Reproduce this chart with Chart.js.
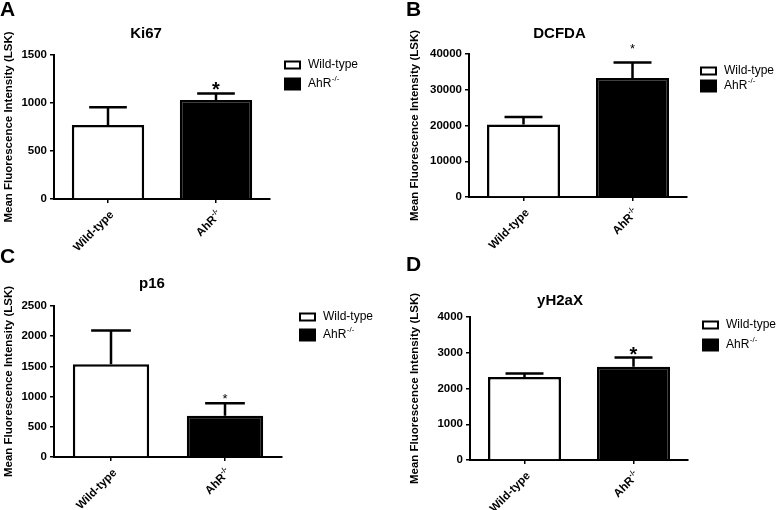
<!DOCTYPE html>
<html>
<head>
<meta charset="utf-8">
<title>LSK fluorescence panels</title>
<script src="https://cdn.jsdelivr.net/npm/chart.js@4.4.1/dist/chart.umd.min.js"></script>
<style>
    html, body { margin: 0; padding: 0; background: #fff; }
    #wrap { position: relative; width: 777px; height: 510px; overflow: hidden; }
    #wrap canvas { position: absolute; left: 0; top: 0; }
</style>
</head>
<body>
<div id="wrap">
    <canvas id="chartA" width="777" height="510"></canvas>
    <canvas id="chartB" width="777" height="510"></canvas>
    <canvas id="chartC" width="777" height="510"></canvas>
    <canvas id="chartD" width="777" height="510"></canvas>
</div>
<script>
// Data
const categories = ['Wild-type', 'AhR-/-'];
const significant = [false, true];

const ki67Means = [770, 1030];
const ki67Errors = [185, 70];

const dcfdaMeans = [20250, 33300];
const dcfdaErrors = [2150, 4300];

const p16Means = [1535, 685];
const p16Errors = [560, 205];

const h2axMeans = [2320, 2605];
const h2axErrors = [100, 260];

const panelTitles = ['Ki67', 'DCFDA', 'p16', 'yH2aX'];
const panelLetters = ['A', 'B', 'C', 'D'];
const yMaxValues = [1500, 40000, 2500, 4000];
const yStepValues = [500, 10000, 500, 1000];
const yAxisTitle = 'Mean Fluorescence Intensity (LSK)';

const FONT = '"Liberation Sans", Arial, Helvetica, sans-serif';
Chart.defaults.font.family = FONT;
Chart.defaults.color = '#000';

// Layout of each panel on the page (pixels)
const layouts = [
    { area: { left: 54, right: 270, top: 55, bottom: 199 }, yTitleX: 8.5,
      title: { x: 146, y: 38 }, letter: { x: 0, y: 16 },
      legend: { x: 284, y: 65, gap: 19 }, star: { font: 'bold 20px', dy: 3 } },
    { area: { left: 469, right: 687, top: 54, bottom: 197 }, yTitleX: 414.5,
      title: { x: 559.5, y: 38 }, letter: { x: 406, y: 16 },
      legend: { x: 700, y: 71, gap: 15 }, star: { font: '13px', dy: -10 } },
    { area: { left: 54, right: 282, top: 306, bottom: 457 }, yTitleX: 8.5,
      title: { x: 152, y: 288 }, letter: { x: 0, y: 263 },
      legend: { x: 299, y: 317, gap: 18 }, star: { font: '13px', dy: 0 } },
    { area: { left: 470, right: 688, top: 317, bottom: 460 }, yTitleX: 414.5,
      title: { x: 560, y: 305 }, letter: { x: 406, y: 271 },
      legend: { x: 702, y: 325, gap: 20 }, star: { font: 'bold 20px', dy: 3 } }
];

const seriesMeans = [ki67Means, dcfdaMeans, p16Means, h2axMeans];
const seriesErrors = [ki67Errors, dcfdaErrors, p16Errors, h2axErrors];
const canvasIds = ['chartA', 'chartB', 'chartC', 'chartD'];

const X_AXIS_H = 10;

// Split "AhR-/-" into base text and superscript
function splitLabel(text) {
    if (text.endsWith('-/-')) return { base: text.slice(0, -3), sup: '-/-' };
    return { base: text, sup: '' };
}

function drawXLabel(ctx, text, x, y) {
    const { base, sup } = splitLabel(text);
    ctx.save();
    ctx.translate(x, y);
    ctx.rotate(-Math.PI / 4);
    ctx.textBaseline = 'middle';
    ctx.textAlign = 'left';
    ctx.font = 'bold 7.5px ' + FONT;
    const wSup = sup ? ctx.measureText(sup).width : 0;
    ctx.font = 'bold 11.5px ' + FONT;
    const wBase = ctx.measureText(base).width;
    ctx.fillText(base, -(wBase + wSup), 0);
    if (sup) {
        ctx.font = 'bold 7.5px ' + FONT;
        ctx.fillText(sup, -wSup, -4);
    }
    ctx.restore();
}

function drawLegendLabel(ctx, text, x, y) {
    const { base, sup } = splitLabel(text);
    ctx.textBaseline = 'middle';
    ctx.textAlign = 'left';
    ctx.font = '12px ' + FONT;
    ctx.fillText(base, x, y);
    if (sup) {
        const w = ctx.measureText(base).width;
        ctx.font = '8px ' + FONT;
        ctx.fillText(sup, x + w + 0.5, y - 5);
    }
}

function makeDecor(idx) {
    const lay = layouts[idx];
    const means = seriesMeans[idx];
    const errors = seriesErrors[idx];
    return {
        id: 'panelDecor' + idx,
        afterDatasetsDraw(chart) {
            const ctx = chart.ctx;
            const yScale = chart.scales.y;
            const meta = chart.getDatasetMeta(0);
            ctx.save();
            ctx.strokeStyle = '#000';
            ctx.lineWidth = 2.5;
            meta.data.forEach((bar, i) => {
                const top = yScale.getPixelForValue(means[i] + errors[i]);
                const half = bar.width * 0.26;
                ctx.beginPath();
                ctx.moveTo(bar.x, bar.y);
                ctx.lineTo(bar.x, top);
                ctx.moveTo(bar.x - half, top);
                ctx.lineTo(bar.x + half, top);
                ctx.stroke();
                if (significant[i]) {
                    ctx.fillStyle = '#000';
                    ctx.font = lay.star.font + ' ' + FONT;
                    ctx.textAlign = 'center';
                    ctx.textBaseline = 'alphabetic';
                    ctx.fillText('*', bar.x, top + lay.star.dy);
                }
            });
            ctx.restore();
        },
        afterDraw(chart) {
            const ctx = chart.ctx;
            const area = chart.chartArea;
            const xScale = chart.scales.x;
            ctx.save();
            ctx.fillStyle = '#000';

            // panel letter
            ctx.font = 'bold 21px ' + FONT;
            ctx.textAlign = 'left';
            ctx.textBaseline = 'alphabetic';
            ctx.fillText(panelLetters[idx], lay.letter.x, lay.letter.y);

            // panel title
            ctx.font = 'bold 15px ' + FONT;
            ctx.textAlign = 'center';
            ctx.fillText(panelTitles[idx], lay.title.x, lay.title.y);

            // y axis title (not squeezed to the plot height)
            ctx.save();
            ctx.translate(lay.yTitleX, (area.top + area.bottom) / 2);
            ctx.rotate(-Math.PI / 2);
            ctx.font = 'bold 11.5px ' + FONT;
            ctx.textAlign = 'center';
            ctx.textBaseline = 'middle';
            ctx.fillText(yAxisTitle, 0, 0);
            ctx.restore();

            // rotated category labels
            categories.forEach((label, i) => {
                const x = xScale.getPixelForValue(i);
                drawXLabel(ctx, label, x + 4, area.bottom + 14);
            });

            // legend
            const lg = lay.legend;
            categories.forEach((label, i) => {
                const cy = lg.y + i * lg.gap;
                if (i === 0) {
                    ctx.fillStyle = '#fff';
                    ctx.fillRect(lg.x, cy - 4, 17, 8);
                    ctx.strokeStyle = '#000';
                    ctx.lineWidth = 2;
                    ctx.strokeRect(lg.x + 1, cy - 3.5, 15, 7);
                } else {
                    ctx.fillStyle = '#000';
                    ctx.fillRect(lg.x, cy - 6.5, 17, 13);
                }
                ctx.fillStyle = '#000';
                drawLegendLabel(ctx, label, lg.x + 24, cy);
            });
            ctx.restore();
        }
    };
}

function buildChart(idx) {
    const lay = layouts[idx];
    const a = lay.area;
    const ctx = document.getElementById(canvasIds[idx]).getContext('2d');
    return new Chart(ctx, {
        type: 'bar',
        data: {
            labels: categories,
            datasets: [{
                data: seriesMeans[idx],
                backgroundColor: ['#ffffff', '#000000'],
                borderColor: '#000000',
                borderWidth: 2.5,
                borderSkipped: 'start',
                barPercentage: 0.67,
                categoryPercentage: 1
            }]
        },
        options: {
            responsive: false,
            animation: false,
            events: [],
            layout: {
                padding: {
                    left: 0,
                    top: a.top,
                    right: 777 - a.right,
                    bottom: 510 - a.bottom - X_AXIS_H
                }
            },
            plugins: {
                legend: { display: false },
                title: { display: false },
                tooltip: { enabled: false }
            },
            scales: {
                x: {
                    ticks: { display: false },
                    grid: {
                        offset: false,
                        drawOnChartArea: false,
                        drawTicks: true,
                        tickLength: 4,
                        color: '#000',
                        lineWidth: 1.5
                    },
                    border: { display: true, color: '#000', width: 2 },
                    afterFit: s => { s.height = X_AXIS_H; }
                },
                y: {
                    min: 0,
                    max: yMaxValues[idx],
                    ticks: {
                        stepSize: yStepValues[idx],
                        padding: 3,
                        color: '#000',
                        font: { size: 11.5, weight: 'bold' },
                        callback: v => String(v)
                    },
                    grid: {
                        drawOnChartArea: false,
                        drawTicks: true,
                        tickLength: 4,
                        color: '#000',
                        lineWidth: 1.5
                    },
                    border: { display: true, color: '#000', width: 2 },
                    afterFit: s => { s.width = a.left; }
                }
            }
        },
        plugins: [makeDecor(idx)]
    });
}

document.addEventListener('DOMContentLoaded', () => {
    layouts.forEach((_, i) => buildChart(i));
});
</script>
</body>
</html>
